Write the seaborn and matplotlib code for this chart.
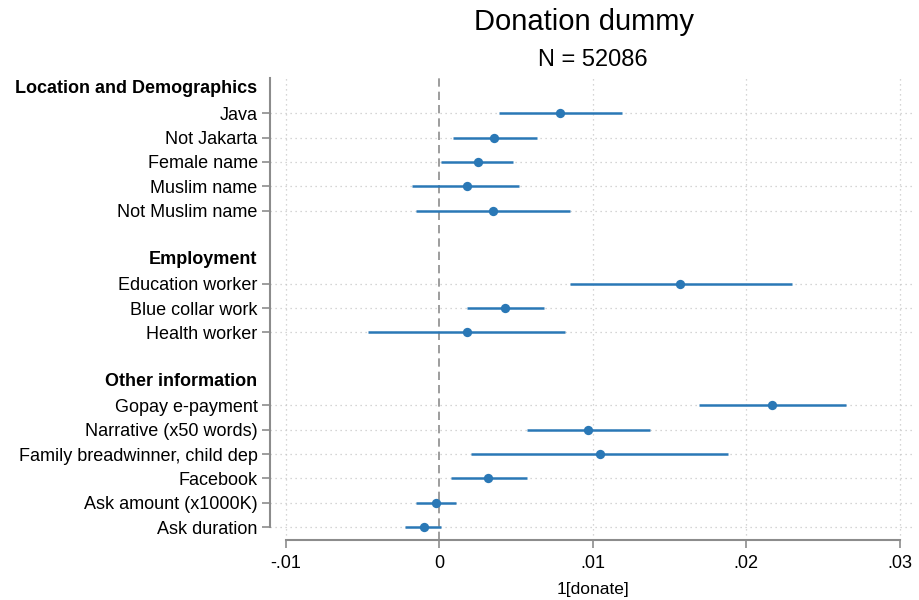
import pandas as pd
import numpy as np
import matplotlib
matplotlib.use('Agg')
import matplotlib.pyplot as plt
import seaborn as sns

# row labels top to bottom; "" marks a blank spacer row
labels = ['Location and Demographics', 'Java', 'Not Jakarta', 'Female name', 'Muslim name',
          'Not Muslim name', '', 'Employment', 'Education worker', 'Blue collar work',
          'Health worker', '', 'Other information', 'Gopay e-payment', 'Narrative (x50 words)',
          'Family breadwinner, child dep', 'Facebook', 'Ask amount (x1000K)', 'Ask duration']
headers = ['Location and Demographics', 'Employment', 'Other information']

coef_names = ['Java', 'Not Jakarta', 'Female name', 'Muslim name', 'Not Muslim name',
              'Education worker', 'Blue collar work', 'Health worker',
              'Gopay e-payment', 'Narrative (x50 words)', 'Family breadwinner, child dep',
              'Facebook', 'Ask amount (x1000K)', 'Ask duration']
estimates = [0.0079, 0.0036, 0.0025, 0.0018, 0.0035,
             0.0157, 0.0043, 0.0018,
             0.0217, 0.0097, 0.0105, 0.0032, -0.0002, -0.0010]
ci_low = [0.0039, 0.0009, 0.0001, -0.0018, -0.0015,
          0.0085, 0.0018, -0.0046,
          0.0169, 0.0057, 0.0021, 0.0008, -0.0015, -0.0022]
ci_high = [0.0119, 0.0064, 0.0048, 0.0052, 0.0085,
           0.0230, 0.0068, 0.0082,
           0.0265, 0.0137, 0.0188, 0.0057, 0.0011, 0.0001]

xticks = [-0.01, 0, 0.01, 0.02, 0.03]
xticklabels = ['-.01', '0', '.01', '.02', '.03']

sns.set_style('white')
plt.rcParams['font.family'] = ['Liberation Sans', 'DejaVu Sans']
plt.rcParams['text.color'] = 'black'
plt.rcParams['axes.labelcolor'] = 'black'
plt.rcParams['xtick.color'] = 'black'
plt.rcParams['ytick.color'] = 'black'

color = '#2a78b6'
df = pd.DataFrame({'name': coef_names, 'est': estimates, 'lo': ci_low, 'hi': ci_high})
df['row'] = [labels.index(n) for n in df['name']]

fig = plt.figure(figsize=(9.19, 6), dpi=100)
ax = fig.add_axes([0.294, 0.10, 0.702, 0.77])

# grid
for x in [-0.01, 0.01, 0.02, 0.03]:
    ax.axvline(x, color='#c8c8c8', lw=0.9, ls=(0, (1, 3)), zorder=0)
for r in df['row']:
    ax.axhline(r, color='#c8c8c8', lw=0.9, ls=(0, (1, 3)), zorder=0)
ax.axvline(0, color='#8c8c8c', lw=1.2, ls=(0, (5, 3)), zorder=1)

ax.hlines(df['row'], df['lo'], df['hi'], color=color, lw=1.8, zorder=2)
sns.scatterplot(data=df, x='est', y='row', ax=ax, color=color, s=45,
                edgecolor=color, linewidth=0, zorder=3, legend=False)

ax.set_xlim(-0.011, 0.031)
ax.set_ylim(18.53, -0.45)
ax.set_xticks(xticks)
ax.set_xticklabels(xticklabels, fontsize=13)
ax.set_yticks(df['row'])
ax.set_yticklabels(df['name'], fontsize=13)
ax.tick_params(axis='both', bottom=True, left=True, length=6, width=1.2,
               color='#8c8c8c', direction='out', pad=3)
ax.tick_params(axis='x', pad=5)

# group headers, right-aligned with the tick labels
for h in headers:
    ax.text(-0.0205, labels.index(h), h, ha='right', va='center',
            fontsize=13, fontweight='bold', transform=ax.get_yaxis_transform(),
            clip_on=False)

for s in ['top', 'right']:
    ax.spines[s].set_visible(False)
for s in ['left', 'bottom']:
    ax.spines[s].set_color('#8c8c8c')
    ax.spines[s].set_linewidth(1.5)
ax.spines['bottom'].set_bounds(-0.01, 0.03)
ax.spines['left'].set_bounds(-0.45, 18)

ax.set_xlabel('1[donate]', fontsize=12.5, labelpad=7)
ax.set_ylabel('')

fig.text(0.636, 0.964, 'Donation dummy', ha='center', va='center', fontsize=21)
fig.text(0.645, 0.900, 'N = 52086', ha='center', va='center', fontsize=17)

fig.savefig('out.png', dpi=100, facecolor='white')
